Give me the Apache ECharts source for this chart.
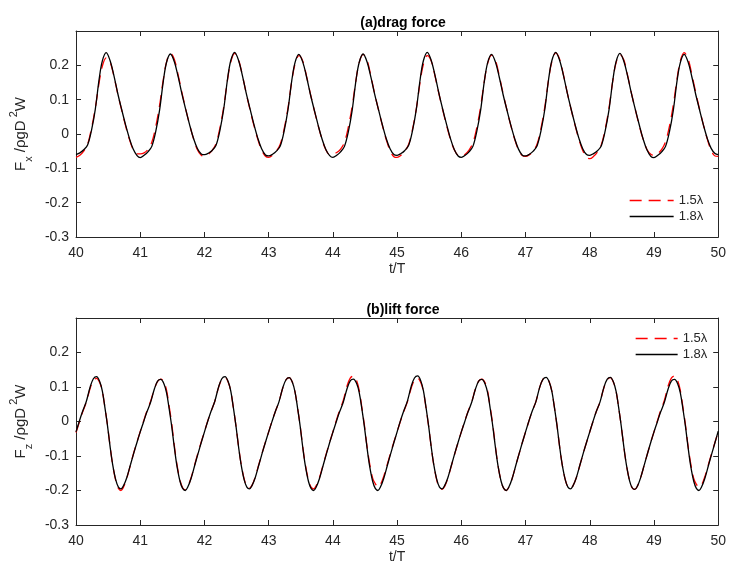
<!DOCTYPE html>
<html>
<head>
<meta charset="utf-8">
<title>drag and lift force</title>
<script src="https://cdn.jsdelivr.net/npm/echarts@6.0.0/dist/echarts.min.js"></script>
<style>
	html, body { margin: 0; padding: 0; background: #fff; }
	#chart { width: 729px; height: 569px; }
</style>
</head>
<body>
<div id="chart"></div>
<script>
// wave periods (t/T)
var cycles = [40, 41, 42, 43, 44, 45, 46, 47, 48, 49];

// sample positions inside one period
var dragPhase = [0.00, 0.06, 0.12, 0.18, 0.24, 0.30, 0.36, 0.41, 0.47, 0.53, 0.59, 0.65, 0.71, 0.77, 0.83, 0.89, 0.95];
var liftPhase = [0.00, 0.05, 0.10, 0.16, 0.22, 0.27, 0.32, 0.37, 0.41, 0.45, 0.49, 0.53, 0.57, 0.62, 0.66, 0.70, 0.74, 0.79, 0.85, 0.90, 0.95];

// (a) drag force, 1.8 lambda (black)
var drag18 = [
	[-0.060, -0.055, -0.046, -0.032, 0.010, 0.072, 0.160, 0.213, 0.237, 0.214, 0.170, 0.118, 0.072, 0.028, -0.012, -0.044, -0.063],
	[-0.069, -0.062, -0.052, -0.036, 0.006, 0.068, 0.155, 0.209, 0.233, 0.211, 0.167, 0.116, 0.070, 0.026, -0.013, -0.042, -0.058],
	[-0.060, -0.056, -0.048, -0.033, 0.010, 0.073, 0.161, 0.214, 0.238, 0.215, 0.171, 0.119, 0.073, 0.028, -0.012, -0.043, -0.061],
	[-0.064, -0.059, -0.050, -0.035, 0.008, 0.070, 0.156, 0.208, 0.232, 0.210, 0.166, 0.115, 0.070, 0.026, -0.014, -0.045, -0.063],
	[-0.068, -0.062, -0.052, -0.036, 0.006, 0.069, 0.157, 0.209, 0.233, 0.211, 0.167, 0.116, 0.071, 0.027, -0.013, -0.043, -0.060],
	[-0.062, -0.057, -0.048, -0.033, 0.010, 0.073, 0.161, 0.214, 0.238, 0.215, 0.171, 0.119, 0.072, 0.028, -0.013, -0.045, -0.064],
	[-0.068, -0.062, -0.052, -0.036, 0.007, 0.069, 0.156, 0.208, 0.232, 0.210, 0.166, 0.115, 0.070, 0.026, -0.013, -0.044, -0.062],
	[-0.064, -0.059, -0.050, -0.034, 0.009, 0.072, 0.161, 0.214, 0.238, 0.215, 0.171, 0.119, 0.072, 0.028, -0.012, -0.043, -0.060],
	[-0.062, -0.057, -0.049, -0.034, 0.009, 0.071, 0.158, 0.211, 0.235, 0.212, 0.168, 0.117, 0.071, 0.027, -0.014, -0.046, -0.065],
	[-0.069, -0.062, -0.052, -0.036, 0.006, 0.068, 0.156, 0.208, 0.232, 0.210, 0.166, 0.115, 0.070, 0.026, -0.013, -0.042, -0.057]
];
var drag18End = -0.060;

// (a) drag force, 1.5 lambda (red dashed)
var drag15 = [
	[-0.068, -0.062, -0.050, -0.030, 0.016, 0.075, 0.150, 0.198, 0.222, 0.210, 0.168, 0.117, 0.070, 0.025, -0.015, -0.045, -0.058],
	[-0.058, -0.055, -0.045, -0.024, 0.020, 0.082, 0.160, 0.210, 0.235, 0.218, 0.172, 0.120, 0.071, 0.026, -0.014, -0.046, -0.062],
	[-0.064, -0.059, -0.048, -0.028, 0.017, 0.079, 0.159, 0.210, 0.235, 0.217, 0.171, 0.119, 0.070, 0.025, -0.015, -0.047, -0.065],
	[-0.068, -0.062, -0.050, -0.030, 0.014, 0.075, 0.154, 0.204, 0.228, 0.213, 0.168, 0.117, 0.069, 0.025, -0.015, -0.046, -0.060],
	[-0.058, -0.054, -0.044, -0.024, 0.020, 0.081, 0.158, 0.208, 0.232, 0.216, 0.170, 0.118, 0.070, 0.025, -0.016, -0.048, -0.066],
	[-0.068, -0.062, -0.050, -0.030, 0.014, 0.075, 0.154, 0.204, 0.228, 0.213, 0.169, 0.118, 0.070, 0.025, -0.015, -0.046, -0.063],
	[-0.065, -0.059, -0.047, -0.026, 0.018, 0.079, 0.156, 0.206, 0.230, 0.215, 0.170, 0.118, 0.070, 0.025, -0.015, -0.046, -0.063],
	[-0.065, -0.060, -0.049, -0.029, 0.016, 0.079, 0.160, 0.211, 0.236, 0.218, 0.172, 0.120, 0.071, 0.026, -0.015, -0.048, -0.067],
	[-0.072, -0.065, -0.052, -0.031, 0.014, 0.077, 0.157, 0.208, 0.232, 0.216, 0.170, 0.118, 0.070, 0.025, -0.015, -0.045, -0.059],
	[-0.062, -0.057, -0.045, -0.022, 0.022, 0.084, 0.162, 0.213, 0.237, 0.219, 0.173, 0.121, 0.072, 0.026, -0.015, -0.047, -0.064]
];
var drag15End = -0.065;

// (b) lift force, 1.8 lambda (black)
var lift18 = [
	[-0.030, 0.000, 0.028, 0.058, 0.100, 0.124, 0.130, 0.115, 0.088, 0.040, -0.012, -0.072, -0.124, -0.170, -0.190, -0.195, -0.186, -0.163, -0.124, -0.091, -0.060],
	[-0.030, -0.002, 0.026, 0.055, 0.094, 0.117, 0.122, 0.109, 0.083, 0.037, -0.014, -0.074, -0.127, -0.174, -0.194, -0.200, -0.190, -0.166, -0.126, -0.093, -0.061],
	[-0.030, 0.000, 0.028, 0.058, 0.100, 0.124, 0.130, 0.115, 0.088, 0.040, -0.012, -0.072, -0.124, -0.170, -0.190, -0.195, -0.186, -0.163, -0.124, -0.091, -0.060],
	[-0.030, -0.001, 0.027, 0.057, 0.098, 0.121, 0.127, 0.113, 0.086, 0.039, -0.013, -0.074, -0.127, -0.174, -0.194, -0.200, -0.190, -0.166, -0.126, -0.093, -0.061],
	[-0.031, -0.002, 0.026, 0.055, 0.095, 0.118, 0.123, 0.110, 0.084, 0.038, -0.014, -0.074, -0.127, -0.174, -0.194, -0.200, -0.190, -0.166, -0.126, -0.093, -0.061],
	[-0.030, 0.001, 0.029, 0.059, 0.102, 0.126, 0.132, 0.117, 0.089, 0.041, -0.012, -0.072, -0.124, -0.170, -0.190, -0.195, -0.186, -0.163, -0.124, -0.091, -0.060],
	[-0.030, -0.002, 0.026, 0.055, 0.094, 0.117, 0.122, 0.109, 0.083, 0.037, -0.014, -0.074, -0.127, -0.174, -0.194, -0.200, -0.190, -0.166, -0.126, -0.093, -0.061],
	[-0.030, 0.000, 0.028, 0.057, 0.099, 0.122, 0.128, 0.114, 0.087, 0.040, -0.012, -0.072, -0.124, -0.170, -0.190, -0.195, -0.186, -0.163, -0.124, -0.091, -0.060],
	[-0.030, 0.000, 0.028, 0.057, 0.099, 0.122, 0.128, 0.114, 0.087, 0.040, -0.013, -0.073, -0.125, -0.172, -0.192, -0.197, -0.188, -0.164, -0.125, -0.092, -0.060],
	[-0.030, -0.002, 0.026, 0.055, 0.094, 0.117, 0.122, 0.109, 0.083, 0.037, -0.014, -0.074, -0.127, -0.174, -0.194, -0.200, -0.190, -0.166, -0.126, -0.093, -0.061]
];
var lift18End = -0.028;

// (b) lift force, 1.5 lambda (red dashed)
var lift15 = [
	[-0.032, -0.003, 0.026, 0.056, 0.096, 0.119, 0.125, 0.112, 0.087, 0.041, -0.010, -0.071, -0.125, -0.173, -0.194, -0.200, -0.190, -0.165, -0.124, -0.090, -0.059],
	[-0.029, 0.000, 0.028, 0.058, 0.094, 0.116, 0.123, 0.114, 0.090, 0.045, -0.006, -0.068, -0.123, -0.171, -0.192, -0.198, -0.189, -0.164, -0.124, -0.090, -0.059],
	[-0.029, 0.001, 0.028, 0.058, 0.099, 0.122, 0.128, 0.114, 0.087, 0.040, -0.012, -0.071, -0.122, -0.168, -0.188, -0.193, -0.185, -0.161, -0.122, -0.090, -0.059],
	[-0.030, 0.000, 0.027, 0.057, 0.098, 0.121, 0.127, 0.113, 0.086, 0.040, -0.012, -0.072, -0.124, -0.170, -0.190, -0.195, -0.186, -0.163, -0.124, -0.091, -0.060],
	[-0.030, 0.001, 0.030, 0.060, 0.103, 0.126, 0.132, 0.118, 0.090, 0.042, -0.010, -0.070, -0.120, -0.165, -0.180, -0.190, -0.183, -0.160, -0.122, -0.090, -0.059],
	[-0.030, 0.000, 0.027, 0.057, 0.097, 0.120, 0.126, 0.112, 0.086, 0.039, -0.013, -0.073, -0.125, -0.172, -0.192, -0.197, -0.188, -0.164, -0.125, -0.092, -0.060],
	[-0.030, -0.001, 0.027, 0.056, 0.095, 0.117, 0.123, 0.112, 0.087, 0.041, -0.010, -0.071, -0.126, -0.174, -0.194, -0.200, -0.190, -0.166, -0.126, -0.093, -0.061],
	[-0.030, 0.000, 0.028, 0.057, 0.099, 0.122, 0.128, 0.114, 0.087, 0.040, -0.012, -0.072, -0.124, -0.170, -0.190, -0.195, -0.186, -0.163, -0.124, -0.091, -0.060],
	[-0.030, 0.000, 0.028, 0.057, 0.098, 0.121, 0.127, 0.113, 0.087, 0.040, -0.013, -0.073, -0.125, -0.172, -0.192, -0.197, -0.188, -0.164, -0.125, -0.092, -0.060],
	[-0.030, 0.000, 0.030, 0.060, 0.103, 0.126, 0.132, 0.118, 0.090, 0.042, -0.010, -0.070, -0.120, -0.166, -0.182, -0.190, -0.184, -0.161, -0.123, -0.091, -0.060]
];
var lift15End = -0.030;

var legendNames = ['1.5\u03bb', '1.8\u03bb'];
var titles = ['(a)drag force', '(b)lift force'];

var FONT = '"Liberation Sans", Arial, sans-serif';
var AXIS_COLOR = '#262626';

// period rows -> [t, value] pairs
function toPairs(phases, rows, endValue) {
	var out = [];
	for (var i = 0; i < rows.length; i++) {
		for (var j = 0; j < phases.length; j++) {
			out.push([cycles[i] + phases[j], rows[i][j]]);
		}
	}
	out.push([cycles[cycles.length - 1] + 1, endValue]);
	return out;
}

function yFormat(v) {
	if (v > 0.25) {
		return '';
	}
	return String(+v.toFixed(1));
}

function mainX(gridIndex) {
	return {
		type: 'value', gridIndex: gridIndex, min: 40, max: 50, interval: 1,
		name: 't/T', nameLocation: 'middle', nameGap: 25,
		nameTextStyle: { fontFamily: FONT, fontSize: 14, color: AXIS_COLOR },
		axisLine: { onZero: false, lineStyle: { color: AXIS_COLOR, width: 1 } },
		axisTick: { inside: true, length: 5, lineStyle: { color: AXIS_COLOR } },
		axisLabel: { fontFamily: FONT, fontSize: 14, color: AXIS_COLOR, margin: 9 },
		splitLine: { show: false }
	};
}

function boxX(gridIndex) {
	return {
		type: 'value', gridIndex: gridIndex, position: 'top', min: 40, max: 50, interval: 1,
		axisLine: { onZero: false, lineStyle: { color: AXIS_COLOR, width: 1 } },
		axisTick: { inside: true, length: 5, lineStyle: { color: AXIS_COLOR } },
		axisLabel: { show: false },
		splitLine: { show: false }
	};
}

function mainY(gridIndex, sub) {
	return {
		type: 'value', gridIndex: gridIndex, min: -0.3, max: 0.3, interval: 0.1,
		name: '{n|F}{sub|' + sub + '}{n| /\u03c1gD}{sup| 2}{n|W}',
		nameLocation: 'middle', nameRotate: 90, nameGap: 42,
		nameTextStyle: {
			fontFamily: FONT, color: AXIS_COLOR,
			rich: {
				n: { fontFamily: FONT, fontSize: 15, color: AXIS_COLOR, lineHeight: 26, verticalAlign: 'middle' },
				sub: { fontFamily: FONT, fontSize: 11, color: AXIS_COLOR, verticalAlign: 'bottom', lineHeight: 26 },
				sup: { fontFamily: FONT, fontSize: 11, color: AXIS_COLOR, verticalAlign: 'top', lineHeight: 26 }
			}
		},
		axisLine: { onZero: false, lineStyle: { color: AXIS_COLOR, width: 1 } },
		axisTick: { inside: true, length: 5, lineStyle: { color: AXIS_COLOR } },
		axisLabel: { fontFamily: FONT, fontSize: 14, color: AXIS_COLOR, margin: 7, formatter: yFormat },
		splitLine: { show: false }
	};
}

function boxY(gridIndex) {
	return {
		type: 'value', gridIndex: gridIndex, position: 'right', min: -0.3, max: 0.3, interval: 0.1,
		axisLine: { onZero: false, lineStyle: { color: AXIS_COLOR, width: 1 } },
		axisTick: { inside: true, length: 5, lineStyle: { color: AXIS_COLOR } },
		axisLabel: { show: false },
		splitLine: { show: false }
	};
}

function lineSeries(name, axisIndex, data, dashed) {
	return {
		name: name,
		type: 'line',
		xAxisIndex: axisIndex,
		yAxisIndex: axisIndex,
		data: data,
		symbol: 'none',
		smooth: 0.35,
		lineStyle: {
			color: dashed ? '#ff0000' : '#000000',
			width: 1.3,
			type: dashed ? [12, 7] : 'solid'
		},
		itemStyle: { color: dashed ? '#ff0000' : '#000000' }
	};
}

function legendAt(left, top, width) {
	return {
		orient: 'vertical', left: left, top: top,
		itemWidth: width, itemHeight: 14, itemGap: 3,
		data: legendNames,
		itemStyle: { opacity: 0 },
		lineStyle: { width: 1.3 },
		textStyle: { fontFamily: FONT, fontSize: 13, color: AXIS_COLOR }
	};
}

var chart = echarts.init(document.getElementById('chart'), null, { renderer: 'canvas' });

var option = {
	animation: false,
	backgroundColor: '#ffffff',
	title: [
		{ text: titles[0], left: 398, top: 11, textAlign: 'center',
			textStyle: { fontFamily: FONT, fontSize: 14, fontWeight: 'bold', color: '#000' } },
		{ text: titles[1], left: 398, top: 298, textAlign: 'center',
			textStyle: { fontFamily: FONT, fontSize: 14, fontWeight: 'bold', color: '#000' } }
	],
	legend: [
		legendAt(624, 189, 44),
		legendAt(630, 327, 42)
	],
	grid: [
		{ left: 75, right: 7, top: 31, height: 206 },
		{ left: 75, right: 7, top: 318, height: 207 }
	],
	xAxis: [mainX(0), boxX(0), mainX(1), boxX(1)],
	yAxis: [mainY(0, 'x'), boxY(0), mainY(1, 'z'), boxY(1)],
	series: [
		lineSeries(legendNames[0], 0, toPairs(dragPhase, drag15, drag15End), true),
		lineSeries(legendNames[1], 0, toPairs(dragPhase, drag18, drag18End), false),
		lineSeries(legendNames[0], 2, toPairs(liftPhase, lift15, lift15End), true),
		lineSeries(legendNames[1], 2, toPairs(liftPhase, lift18, lift18End), false)
	]
};

chart.setOption(option);
</script>
</body>
</html>
